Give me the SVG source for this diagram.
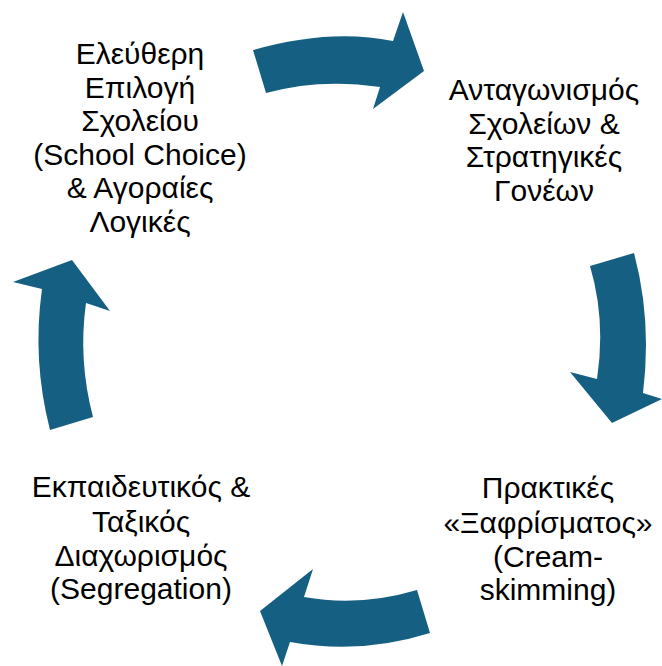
<svg xmlns="http://www.w3.org/2000/svg" width="662" height="666" viewBox="0 0 662 666">
<style>
.lbl{font-family:"Liberation Sans",Arial,sans-serif;font-size:30px;fill:#000;text-anchor:middle}
.arr{fill:#156082}
</style>
<rect width="662" height="666" fill="#fff"/>
<g id="connectors">
<path class="arr" d="M253,50 Q330,28 393,41 L403,12 L424,71 L373,109 L380,87 Q320,78 266,93 Z"/>
<path class="arr" d="M590,266 L634,253 Q652,320 643,393 L662,399 L612,423 L570,372 L597,379 Q606,320 590,266 Z"/>
<path class="arr" d="M417,590 L430,633 Q360,655 290,642 L282,666 L260,611 L313,569 L304,597 Q360,607 417,590 Z"/>
<path class="arr" d="M50,430 L93,417 Q78,360 86,303 L110,311 L72,260 L13,282 L42,289 Q32,360 50,430 Z"/>
</g>
<g id="node1">
<text class="lbl"><tspan x="140" y="64">Ελεύθερη</tspan><tspan x="140" y="98">Επιλογή</tspan><tspan x="140" y="131">Σχολείου</tspan><tspan x="140" y="165">(School Choice)</tspan><tspan x="140" y="198">&amp; Αγοραίες</tspan><tspan x="140" y="232">Λογικές</tspan></text>
</g>
<g id="node2">
<text class="lbl"><tspan x="544" y="100">Ανταγωνισμός</tspan><tspan x="544" y="134">Σχολείων &amp;</tspan><tspan x="544" y="167">Στρατηγικές</tspan><tspan x="544" y="201">Γονέων</tspan></text>
</g>
<g id="node3">
<text class="lbl"><tspan x="548" y="498">Πρακτικές</tspan><tspan x="548" y="533">«Ξαφρίσματος»</tspan><tspan x="548" y="567">(Cream-</tspan><tspan x="548" y="600">skimming)</tspan></text>
</g>
<g id="node4">
<text class="lbl"><tspan x="141" y="497">Εκπαιδευτικός &amp;</tspan><tspan x="141" y="532">Ταξικός</tspan><tspan x="141" y="566">Διαχωρισμός</tspan><tspan x="141" y="599">(Segregation)</tspan></text>
</g>
</svg>
